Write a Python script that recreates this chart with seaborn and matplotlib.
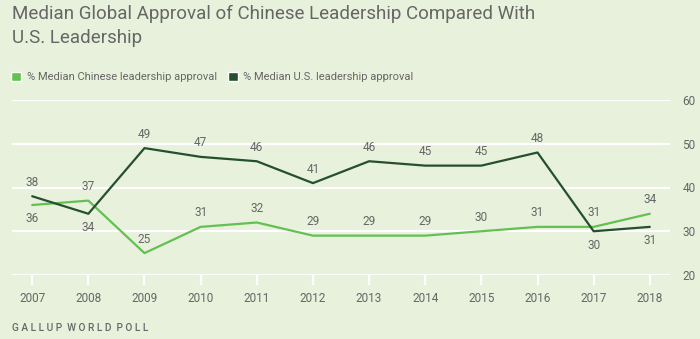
import numpy as np
import pandas as pd
import matplotlib.pyplot as plt
import matplotlib.patches as mpatches
import seaborn as sns

# ── Data ──────────────────────────────────────────────────────────────────────
YEARS   = [2007, 2008, 2009, 2010, 2011, 2012, 2013, 2014, 2015, 2016, 2017, 2018]
CHINA   = [36, 37, 25, 31, 32, 29, 29, 29, 30, 31, 31, 34]
US      = [38, 34, 49, 47, 46, 41, 46, 45, 45, 48, 30, 31]
# label placement: +1 above the point, -1 below
CHINA_POS = [-1, 1, 1, 1, 1, 1, 1, 1, 1, 1, 1, 1]
US_POS    = [1, -1, 1, 1, 1, 1, 1, 1, 1, 1, -1, -1]
Y_TICKS = [20, 30, 40, 50, 60]

CHINA_LABEL = "% Median Chinese leadership approval"
US_LABEL    = "% Median U.S. leadership approval"

# ── Style ─────────────────────────────────────────────────────────────────────
BG    = "#e8f1dc"
LIGHT = "#62c151"
DARK  = "#24502f"
GREY  = "#666666"

sns.set_theme(style="white")
plt.rcParams["font.family"] = ["Liberation Sans Narrow", "Roboto", "DejaVu Sans"]

df = pd.DataFrame({
    "year":   YEARS * 2,
    "value":  CHINA + US,
    "series": [CHINA_LABEL] * len(YEARS) + [US_LABEL] * len(YEARS),
})

fig = plt.figure(figsize=(7.0, 3.39), dpi=100, facecolor=BG)
ax = fig.add_axes([12 / 700, 1 - 275 / 339, 658 / 700, 175 / 339], facecolor=BG)

for y in Y_TICKS:
    ax.axhline(y, color="white", lw=1.6, zorder=0)

sns.lineplot(data=df, x="year", y="value", hue="series",
             palette={CHINA_LABEL: LIGHT, US_LABEL: DARK},
             lw=1.6, legend=False, ax=ax, zorder=3)

for vals, pos in [(US, US_POS), (CHINA, CHINA_POS)]:
    for x, v, p in zip(YEARS, vals, pos):
        ax.annotate(str(v), (x, v), xytext=(0, 10 * p), textcoords="offset points",
                    ha="center", va="center", fontsize=8.5, color=GREY)

ax.set_xlim(2006.64, 2018.36)
ax.set_ylim(20, 60)
ax.set_xticks(YEARS)
ax.set_xticklabels([str(y) for y in YEARS])
ax.set_yticks(Y_TICKS)
ax.yaxis.tick_right()
ax.tick_params(axis="y", length=0, pad=9, labelsize=8.5, labelcolor=GREY)
ax.tick_params(axis="x", length=7, width=1.6, color="white", pad=5,
               labelsize=8.5, labelcolor=GREY, bottom=True)
ax.set_xlabel("")
ax.set_ylabel("")
for s in ax.spines.values():
    s.set_visible(False)

# ── Title, legend, source ─────────────────────────────────────────────────────
fig.text(12 / 700, 1 - 14 / 339, "Median Global Approval of Chinese Leadership Compared With",
         ha="left", va="center", fontsize=13.5, color=GREY)
fig.text(12 / 700, 1 - 38 / 339, "U.S. Leadership",
         ha="left", va="center", fontsize=13.5, color=GREY)

fig.legend(handles=[mpatches.Patch(facecolor=LIGHT, label=CHINA_LABEL),
                    mpatches.Patch(facecolor=DARK, label=US_LABEL)],
           loc="center left", bbox_to_anchor=(1 / 700, 1 - 77 / 339),
           ncol=2, frameon=False, fontsize=8, labelcolor=GREY,
           handlelength=0.9, handleheight=0.9, handletextpad=0.5, columnspacing=1.0)

fig.text(12 / 700, 1 - 328 / 339, "G A L L U P  W O R L D  P O L L",
         ha="left", va="center", fontsize=7.3, color=GREY, fontweight="medium")

fig.savefig("out.png", dpi=100, facecolor=BG)
